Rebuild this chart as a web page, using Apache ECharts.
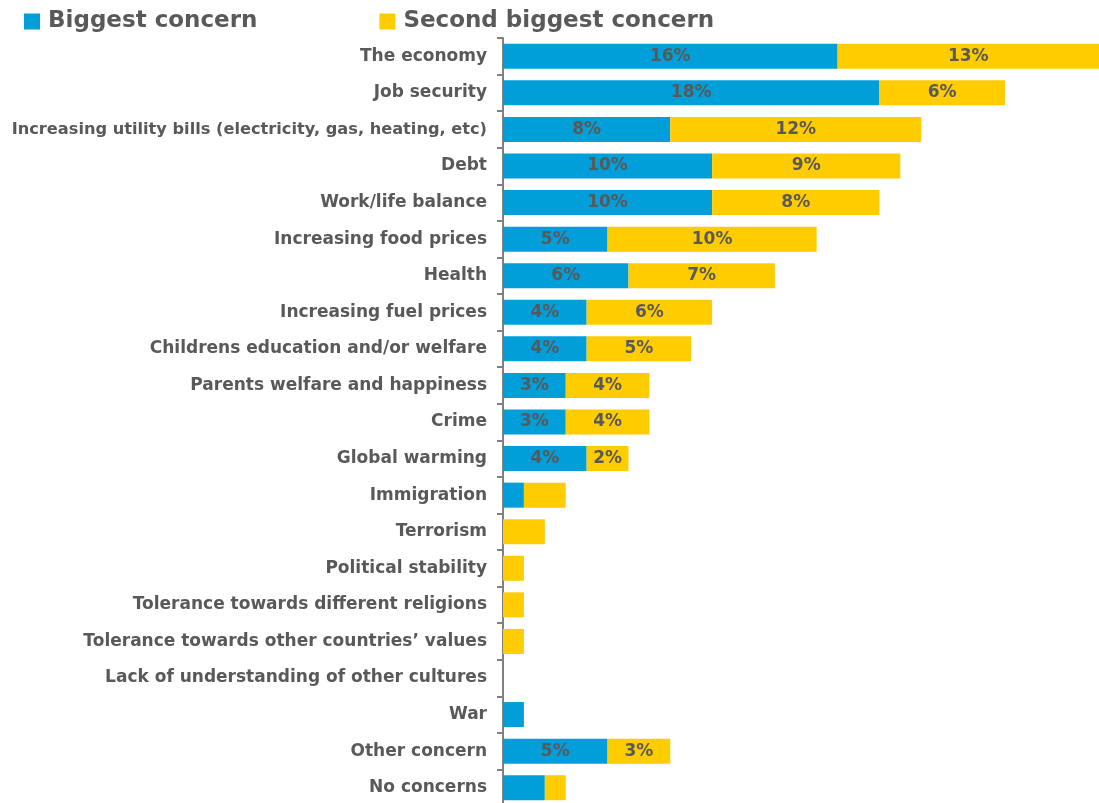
<!DOCTYPE html>
<html>
<head>
<meta charset="utf-8">
<script src="https://cdn.jsdelivr.net/npm/echarts@6/dist/echarts.min.js"></script>
<style>
html,body{margin:0;padding:0;background:#fff;}
#chart{width:1099px;height:803px;}
</style>
</head>
<body>
<div id="chart"></div>
<script>
const categories = [
  "The economy",
  "Job security",
  "Increasing utility bills (electricity, gas, heating, etc)",
  "Debt",
  "Work/life balance",
  "Increasing food prices",
  "Health",
  "Increasing fuel prices",
  "Childrens education and/or welfare",
  "Parents welfare and happiness",
  "Crime",
  "Global warming",
  "Immigration",
  "Terrorism",
  "Political stability",
  "Tolerance towards different religions",
  "Tolerance towards other countries\u2019 values",
  "Lack of understanding of other cultures",
  "War",
  "Other concern",
  "No concerns"
];
const biggest = [16, 18, 8, 10, 10, 5, 6, 4, 4, 3, 3, 4, 1, 0, 0, 0, 0, 0, 1, 5, 2];
const second  = [13, 6, 12, 9, 8, 10, 7, 6, 5, 4, 4, 2, 2, 2, 1, 1, 1, 0, 0, 3, 1];
const biggestLabels = ["16%","18%","8%","10%","10%","5%","6%","4%","4%","3%","3%","4%","","","","","","","","5%",""];
const secondLabels  = ["13%","6%","12%","9%","8%","10%","7%","6%","5%","4%","4%","2%","","","","","","","","3%",""];
const seriesNames = ["Biggest concern", "Second biggest concern"];

const FONT = "'DejaVu Sans', sans-serif";
const GRAY = "#595959";

const chart = echarts.init(document.getElementById('chart'), null, {renderer: 'canvas'});
const labelStyle = (arr) => ({
  show: true,
  position: 'inside',
  color: GRAY,
  fontFamily: FONT,
  fontWeight: 'bold',
  fontSize: 17,
  formatter: (p) => arr[p.dataIndex]
});
chart.setOption({
  animation: false,
  legend: {
    left: 19,
    top: 5,
    itemWidth: 16,
    itemHeight: 16,
    itemGap: 122,
    icon: 'rect',
    textStyle: {color: GRAY, fontFamily: FONT, fontWeight: 'bold', fontSize: 23, padding: [0,0,0,3]},
    data: seriesNames
  },
  grid: {left: 503, right: 0, top: 38, height: 768, containLabel: false, outerBoundsMode: 'none'},
  xAxis: {
    type: 'value', min: 0, max: 28.5, show: false
  },
  yAxis: {
    type: 'category',
    inverse: true,
    data: categories,
    axisLine: {show: true, lineStyle: {color: '#808080', width: 2}},
    axisTick: {show: true, length: 6, lineStyle: {color: '#808080', width: 2}},
    axisLabel: {
      color: GRAY, fontFamily: FONT, fontWeight: 'bold', fontSize: 17, margin: 16,
      formatter: (v) => v.length > 45 ? '{s|' + v + '}' : v,
      rich: {s: {color: GRAY, fontFamily: FONT, fontWeight: 'bold', fontSize: 16.2}}
    }
  },
  series: [
    {
      name: seriesNames[0], type: 'bar', stack: 's', barWidth: 25, clip: true,
      itemStyle: {color: '#009FDA'},
      label: labelStyle(biggestLabels),
      data: biggest
    },
    {
      name: seriesNames[1], type: 'bar', stack: 's', barWidth: 25, clip: true,
      itemStyle: {color: '#FFCC00'},
      label: labelStyle(secondLabels),
      data: second
    }
  ]
});
</script>
</body>
</html>
